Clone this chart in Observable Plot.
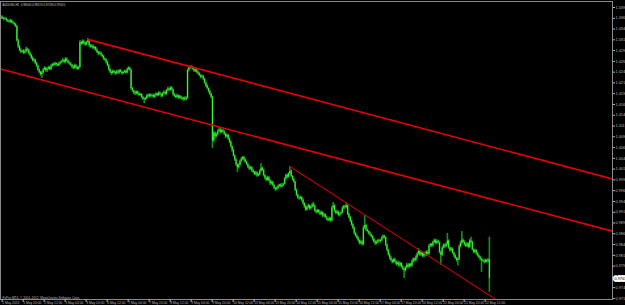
<!DOCTYPE html>
<html><head><meta charset="utf-8">
<script src="https://cdn.jsdelivr.net/npm/d3@7"></script>
<script src="https://cdn.jsdelivr.net/npm/@observablehq/plot@0.6"></script>
<style>html,body{margin:0;padding:0;background:#000;overflow:hidden}</style>
</head><body><div id="chart"></div>
<script>
// AUDUSD H1, 1 May 2013 04:00 .. 22 May 2013 16:00 (one value per hourly bar)
const symbol = "AUDUSD,H1";
const firstOpen = 1.0364;
const closes = [
1.0367,1.0365,1.0362,1.0363,1.0360,1.0358,1.0356,1.0359,1.0355,1.0353,1.0350,1.0346,
1.0313,1.0299,
1.0290,1.0287,1.0289,
1.0284,1.0287,1.0293,1.0291,1.0283,1.0279,
1.0272,1.0266,1.0268,1.0260,1.0254,
1.0245,1.0240,1.0234,1.0238,
1.0245,1.0249,1.0243,1.0247,1.0250,1.0246,
1.0254,1.0258,1.0256,1.0260,1.0257,1.0255,1.0259,1.0262,
1.0264,1.0267,1.0263,1.0270,1.0266,1.0261,1.0259,
1.0256,1.0252,1.0249,1.0255,1.0250,1.0247,1.0251,
1.0309,
1.0305,1.0311,1.0307,1.0303,1.0309,1.0312,
1.0302,1.0298,1.0300,1.0295,1.0297,1.0291,
1.0286,1.0282,1.0284,1.0280,
1.0276,1.0271,1.0268,1.0263,
1.0255,1.0246,1.0240,1.0237,
1.0242,1.0239,1.0236,1.0241,1.0238,1.0243,1.0240,1.0237,1.0239,1.0242,1.0238,
1.0246,1.0249,1.0245,
1.0202,
1.0196,1.0192,1.0189,1.0194,1.0190,1.0186,1.0188,
1.0181,1.0178,1.0176,1.0179,
1.0185,1.0183,1.0187,1.0184,1.0186,1.0182,1.0185,
1.0189,1.0186,1.0191,1.0188,1.0184,1.0190,1.0193,1.0189,
1.0197,1.0201,1.0198,1.0203,1.0199,
1.0188,1.0184,1.0181,1.0185,1.0180,1.0183,1.0179,
1.0177,1.0180,1.0176,1.0179,
1.0244,
1.0249,1.0252,1.0250,
1.0246,1.0242,1.0245,1.0240,
1.0236,1.0232,1.0228,1.0230,1.0223,
1.0215,1.0208,1.0202,1.0195,
1.0189,1.0182,
1.0080,
1.0098,1.0090,1.0095,
1.0103,1.0106,1.0100,1.0104,1.0101,
1.0096,1.0090,1.0093,1.0085,1.0078,
1.0067,1.0058,1.0046,
1.0036,1.0025,1.0018,1.0024,
1.0033,1.0038,1.0042,1.0036,1.0031,
1.0026,1.0020,1.0015,1.0018,1.0011,
1.0008,1.0003,1.0006,0.9999,1.0002,
1.0010,1.0017,1.0012,
1.0000,0.9994,0.9989,
0.9995,0.9988,0.9981,0.9984,0.9977,
0.9970,0.9968,0.9971,
0.9975,0.9978,0.9974,0.9977,0.9980,
0.9992,1.0000,0.9996,1.0004,1.0010,
0.9998,0.9991,0.9985,
0.9966,0.9955,0.9948,
0.9946,0.9949,0.9943,
0.9935,0.9928,0.9920,
0.9926,0.9930,0.9923,0.9927,0.9932,0.9929,
0.9918,0.9915,0.9919,0.9914,
0.9910,0.9914,0.9906,0.9909,0.9903,
0.9899,0.9896,0.9900,0.9895,
0.9925,0.9930,
0.9918,0.9912,0.9915,0.9908,0.9911,0.9914,
0.9924,0.9928,0.9926,0.9930,
0.9910,0.9903,0.9894,0.9886,0.9878,
0.9866,0.9860,0.9855,
0.9849,0.9843,0.9846,0.9840,
0.9878,0.9884,0.9874,
0.9870,0.9866,0.9862,0.9858,
0.9852,0.9846,0.9842,0.9845,
0.9849,0.9847,0.9850,
0.9855,0.9859,0.9856,
0.9838,0.9827,0.9816,
0.9808,0.9803,0.9799,0.9805,
0.9800,0.9794,0.9797,0.9791,
0.9796,0.9788,0.9783,0.9779,
0.9786,0.9792,0.9788,0.9794,0.9790,
0.9800,0.9806,0.9803,0.9810,
0.9818,0.9824,0.9816,0.9821,0.9813,0.9819,
0.9815,0.9822,0.9818,
0.9836,0.9840,0.9837,
0.9845,0.9849,0.9843,0.9847,0.9844,
0.9822,0.9815,
0.9832,0.9838,0.9835,0.9840,
0.9848,
0.9832,0.9826,0.9829,0.9820,0.9814,
0.9808,0.9803,0.9806,
0.9835,0.9843,0.9850,
0.9845,0.9840,0.9836,0.9841,0.9834,
0.9848,0.9845,
0.9828,0.9822,0.9826,0.9819,
0.9814,0.9810,0.9806,0.9803,
0.9802,0.9799,0.9803,0.9800,0.9804,
0.9761
];
// upper wick above max(open,close), in pips
const upWick = [
4,3,2,4,3,2,3,4,2,3,2,3, 2,3, 3,4,2, 3,4,5,3,2,3, 2,4,3,2,3, 2,3,2,4, 3,4,2,3,4,3,
3,2,4,3,2,3,4,3, 4,5,3,4,3,2,3, 3,2,3,4,2,3,3, 4, 3,4,3,2,3,6, 3,2,4,3,3,2, 3,2,4,3,
2,3,2,3, 2,3,2,3, 3,2,3,4,2,3,4,2,3,3,2, 3,4,2, 2, 3,2,4,3,2,3,3, 2,3,2,3,
3,4,3,2,3,3,4, 3,2,4,3,2,3,4,3, 3,4,2,4,3, 2,3,3,4,2,3,2, 3,2,3,4, 3, 3,2,3,
3,2,4,3, 2,3,2,4,2, 3,2,3,2, 3,2, 2, 4,3,4, 3,5,3,4,3, 3,2,4,3,2, 3,2,3, 2,3,2,4,
3,4,3,2,3, 3,2,3,4,2, 3,2,4,3,3, 4,11,3, 3,2,3, 4,3,2,4,3, 2,3,3, 3,2,3,4,3,
4,3,4,3,11, 3,2,3, 2,3,2, 3,4,2, 3,2,3, 3,4,2,3,4,6, 3,2,3,2, 3,4,2,3,2, 3,2,4,3,
4,8, 3,2,4,3,2,3, 4,3,3,6, 2,3,2,3,2, 3,2,3, 3,2,4,3, 5,24,3, 3,2,3,2, 3,2,3,4,
3,2,3, 4,3,3, 2,3,2, 3,4,2,3, 3,2,3,4, 3,2,3,2, 3,4,3,3,2, 4,3,3,4, 3,7,3,4,2,3,
3,4,3, 4,3,3, 3,4,3,4,3, 2,3, 3,4,3,4, 18, 3,2,4,3,2, 3,2,3, 4,5,20, 3,4,3,4,3,
4,9, 3,2,3,2, 3,2,3,2, 3,4,3,3,4, 53
];
// lower wick below min(open,close), in pips
const downWick = [
2,3,3,2,4,3,2,3,3,2,3,3, 3,4, 3,4,2, 3,2,3,4,3,3, 3,2,4,3,3, 3,4,3,9, 3,2,3,4,2,3,
2,3,3,2,4,3,2,3, 3,2,3,4,3,2,3, 3,4,3,2,4,3,2, 2, 3,2,4,3,2,3, 4,3,2,3,4,3, 3,4,2,3,
3,4,3,4, 3,4,3,5, 2,3,4,2,3,3,2,4,3,2,3, 2,3,3, 4, 3,4,3,2,4,3,2, 3,4,9,2,
3,2,3,4,2,3,3, 2,3,3,2,4,3,2,3, 3,2,3,2,3, 4,3,3,2,4,3,3, 3,5,3,2, 2, 3,2,3,
2,3,3,4, 3,3,4,2,3, 3,4,3,4, 3,4, 17, 4,5,3, 3,2,4,3,3, 3,4,3,3,4, 3,4,3, 3,4,11,3,
2,3,3,4,3, 3,4,3,3,4, 3,3,4,3,2, 3,2,3, 3,4,3, 2,3,4,3,3, 3,5,3, 3,4,3,2,3,
2,3,3,2,3, 3,4,3, 3,4,3, 3,2,4, 3,4,3, 2,3,4,3,3,3, 3,4,3,3, 3,3,4,3,3, 4,3,3,4,
2,3, 4,3,3,4,3,3, 3,3,4,3, 3,4,3,4,3, 4,3,3, 3,4,3,4, 3,3,4, 3,4,3,3, 4,3,4,3,
3,3,4, 3,3,4, 3,4,3, 4,3,4,3, 3,4,3,4, 3,4,3,18, 3,3,4,3,3, 3,3,4,3, 3,3,4,3,4,3,
4,3,3, 3,3,4, 3,3,4,3,3, 4,23, 3,3,4,3, 3, 3,4,3,3,4, 3,4,13, 3,3,3, 3,4,3,3,4,
3,3, 3,4,3,4, 3,3,4,28, 3,4,3,3,3, 32
];
// time axis labels (bar index -> text)
const timeBars = [0,16,32,48,64,80,96,112,128,144,160,176,192,208,224,240,256,272,288,304,320,336,352,368];
const timeLabels = ["1 May 2013","1 May 20:00","2 May 12:00","3 May 04:00","3 May 20:00","6 May 12:00","7 May 04:00","7 May 20:00","8 May 12:00","9 May 04:00","9 May 20:00","10 May 12:00","13 May 04:00","13 May 20:00","14 May 12:00","15 May 04:00","15 May 20:00","16 May 12:00","17 May 04:00","17 May 20:00","20 May 12:00","21 May 04:00","21 May 20:00","22 May 12:00"];
// price axis labels
const priceTicks = [1.039,1.0365,1.034,1.0315,1.029,1.0265,1.024,1.0215,1.019,1.0165,1.014,1.0115,1.009,1.0065,1.004,1.0015,0.999,0.9965,0.994,0.9915,0.989,0.9865,0.984,0.9815,0.979,0.9765,0.974,0.9715];
// trend lines: two anchors (bar, price)
const trendNames = ["channel top","channel bottom","down line"];
const trendA = [[66,1.0316],[31,1.0222],[220,1.0021]];
const trendB = [[145,1.0252],[161,1.0117],[277,0.9909]];
const trendExtendLeft = [false,true,false];
const copyright = "FxPro MT4, \u00A9 2001-2012, MetaQuotes Software Corp.";

const xDom = [-0.5, 465.8];
const yDom = [0.97125, 1.04039];

const bars = closes.map((c, i) => {
  const o = i ? closes[i - 1] : firstOpen;
  return {i, o, c, h: Math.max(o, c) + upWick[i] / 1e4, l: Math.min(o, c) - downWick[i] / 1e4};
});
const last = bars[bars.length - 1];
const lines = trendA.map((a, k) => {
  const b = trendB[k];
  const s = (b[1] - a[1]) / (b[0] - a[0]);
  const t0 = trendExtendLeft[k] ? xDom[0] : a[0];
  return [{k, t: t0, p: a[1] + s * (t0 - a[0])}, {k, t: xDom[1], p: a[1] + s * (xDom[1] - a[0])}];
});
// the current-price label hides the axis label it would cover
const shownTicks = priceTicks.filter(t => Math.abs(t - last.c) > 0.0012);
const title = `${symbol}  ${last.o.toFixed(5)} ${last.h.toFixed(5)} ${last.l.toFixed(5)} ${last.c.toFixed(5)}`;

const chart = Plot.plot({
  width: 625, height: 305,
  marginLeft: 0, marginRight: 13, marginTop: 1, marginBottom: 6,
  style: {background: "#000", color: "#bbb", fontFamily: "Liberation Sans, DejaVu Sans, sans-serif", overflow: "visible"},
  x: {domain: xDom, axis: null},
  y: {domain: yDom, axis: null},
  marks: [
    Plot.ruleX(bars, {x: "i", y1: "l", y2: "h", stroke: "#1a8f1a", strokeWidth: 1.6}),
    Plot.ruleX(bars, {x: "i", y1: "o", y2: "c", stroke: "#36f536", strokeWidth: 1.1}),
    Plot.line(lines[0], {x: "t", y: "p", stroke: "#e60000", strokeWidth: 1.6, clip: true}),
    Plot.line(lines[1], {x: "t", y: "p", stroke: "#e60000", strokeWidth: 1.6, clip: true}),
    Plot.line(lines[2], {x: "t", y: "p", stroke: "#c00000", strokeWidth: 1.1, clip: true}),
    Plot.frame({stroke: "#8a8a8a", strokeWidth: 1}),
    Plot.axisY(shownTicks, {anchor: "right", tickSize: 2, tickPadding: 1, tickFormat: d => d.toFixed(5), fontSize: 3.8, color: "#b8b8b8"}),
    Plot.axisX(timeBars, {anchor: "bottom", tickSize: 3, tickPadding: -1, textAnchor: "start", dx: 1, tickFormat: d => timeLabels[timeBars.indexOf(d)], fontSize: 3.3, color: "#b8b8b8"}),
    Plot.text([copyright], {frameAnchor: "bottom-left", dx: 2, dy: -1, fontSize: 3.2, fill: "#bbb", textAnchor: "start", lineAnchor: "bottom"}),
    Plot.text([title], {frameAnchor: "top-left", dx: 2, dy: 2, fontSize: 2.9, fill: "#ccc", textAnchor: "start", lineAnchor: "top"}),
    Plot.text([last], {x: () => xDom[1], y: "c", text: d => d.c.toFixed(5), textAnchor: "start", dx: 2, fontSize: 3.8, fill: "#000", stroke: "#fff", strokeWidth: 3.5, strokeLinejoin: "miter"})
  ]
});
document.getElementById("chart").appendChild(chart);
</script>
</body></html>
